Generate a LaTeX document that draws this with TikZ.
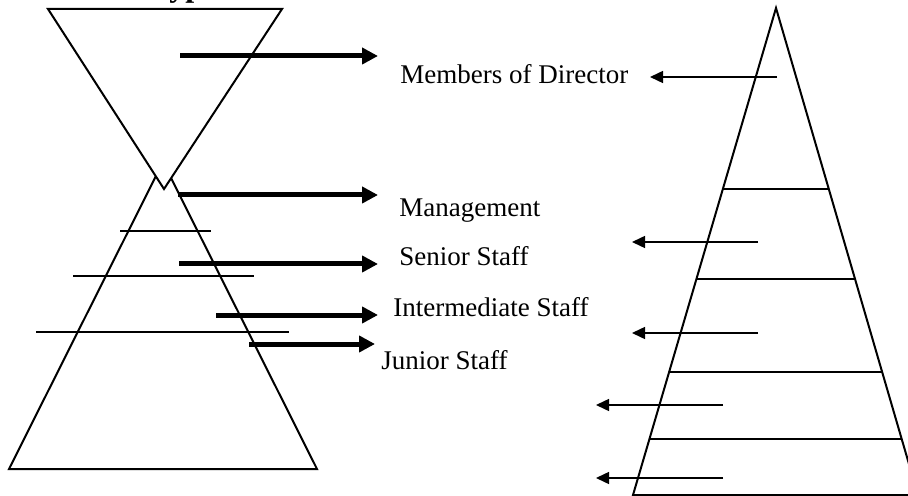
\documentclass[tikz,border=0pt]{standalone}
\usepackage{fontspec}
\setmainfont{Liberation Serif}
\usetikzlibrary{arrows.meta,calc}
\begin{document}
\begin{tikzpicture}[
            x=0.5pt, y=-0.5pt,
            outline/.style={line width=1pt},
            thickarrow/.style={line width=2.5pt, -{Triangle[length=8pt,width=8pt]}},
            thinarrow/.style={line width=0.75pt, -{Triangle[length=6.5pt,width=6pt]}},
            lbl/.style={anchor=west, inner sep=0pt, font=\fontsize{13.5}{16}\selectfont}
        ]
            \useasboundingbox (0,0) rectangle (908,496);
            % title, cut off by the top edge
            \node[anchor=base west, inner sep=0pt, font=\bfseries\fontsize{16}{19}\selectfont] (title) at (150,-3) {Types};

            % left: upright pyramid, half hidden by the inverted one
            \draw[outline] (163,162) -- (9,469) -- (317,469) -- cycle;
            \draw[outline] (120,231) -- (211,231);
            \draw[outline] (73,276) -- (254,276);
            \draw[outline] (36,332) -- (289,332);
            \draw[outline, fill=white] (48,9) -- (282,9) -- (164,189) -- cycle;

            % labels in the middle
            \node[lbl] (mem) at (400,74) {Members of Director};
            \node[lbl] (mgmt) at (399,211) {Management};
            \node[lbl] (senior) at (399,256) {Senior Staff};
            \node[lbl] (inter) at (393,307) {Intermediate Staff};
            \node[lbl] (junior) at (381,360) {Junior Staff};

            % thick arrows from the left pyramid
            \coordinate (a1) at (180,56);  \coordinate (b1) at (378,56);
            \coordinate (a2) at (178,195); \coordinate (b2) at (378,195);
            \coordinate (a3) at (179,264); \coordinate (b3) at (378,264);
            \coordinate (a4) at (216,315); \coordinate (b4) at (378,315);
            \coordinate (a5) at (249,344); \coordinate (b5) at (375,344);
            \draw[thickarrow] (a1) -- (b1);
            \draw[thickarrow] (a2) -- (b2);
            \draw[thickarrow] (a3) -- (b3);
            \draw[thickarrow] (a4) -- (b4);
            \draw[thickarrow] (a5) -- (b5);

            % right pyramid
            \coordinate (apex) at (776,8);
            \coordinate (bl) at (633,495);
            \coordinate (br) at (918,495);
            \draw[outline] (apex) -- (bl) -- (br) -- cycle;
            \draw[outline] ($(apex)!0.3717!(bl)$) -- ($(apex)!0.3717!(br)$);
            \draw[outline] ($(apex)!0.5565!(bl)$) -- ($(apex)!0.5565!(br)$);
            \draw[outline] ($(apex)!0.7474!(bl)$) -- ($(apex)!0.7474!(br)$);
            \draw[outline] ($(apex)!0.885!(bl)$) -- ($(apex)!0.885!(br)$);

            % thin arrows from the right pyramid
            \coordinate (c1) at (777,77);  \coordinate (d1) at (650,77);
            \coordinate (c2) at (758,242); \coordinate (d2) at (632,242);
            \coordinate (c3) at (758,333); \coordinate (d3) at (632,333);
            \coordinate (c4) at (723,405); \coordinate (d4) at (596,405);
            \coordinate (c5) at (723,478); \coordinate (d5) at (596,478);
            \draw[thinarrow] (c1) -- (d1);
            \draw[thinarrow] (c2) -- (d2);
            \draw[thinarrow] (c3) -- (d3);
            \draw[thinarrow] (c4) -- (d4);
            \draw[thinarrow] (c5) -- (d5);
        \end{tikzpicture}
\end{document}
